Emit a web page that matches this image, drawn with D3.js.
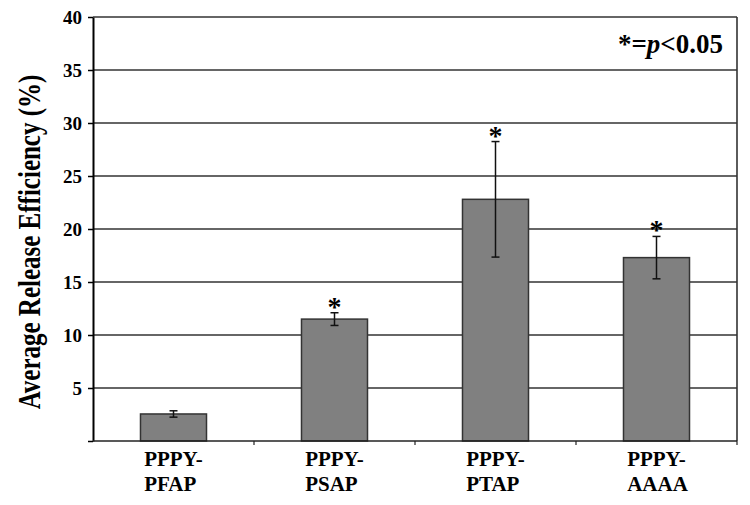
<!DOCTYPE html>
<html>
<head>
<meta charset="utf-8">
<script src="https://cdn.jsdelivr.net/npm/d3@7"></script>
<style>
  body { margin: 0; background: #fff; }
  text { font-family: "Liberation Serif", "Times New Roman", serif; font-weight: bold; }
</style>
</head>
<body>
<svg id="chart" width="750" height="505"></svg>
<script>
// data
var topLine = ["PPPY-", "PPPY-", "PPPY-", "PPPY-"];
var bottomLine = ["PFAP", "PSAP", "PTAP", "AAAA"];
var means = [2.55, 11.5, 22.8, 17.3];
var errors = [0.3, 0.6, 5.45, 2.0];
var significant = [false, true, true, true];
var yTicks = [0, 5, 10, 15, 20, 25, 30, 35, 40];

var width = 750, height = 505;
var margin = {left: 93, top: 17, right: 13, bottom: 64};
var svg = d3.select("#chart");
var serif = "'Liberation Serif', 'Times New Roman', serif";

var x = d3.scaleBand()
  .domain(bottomLine)
  .range([margin.left, width - margin.right])
  .paddingInner(0.59).paddingOuter(0.295);
var bands = d3.scaleBand().domain(bottomLine).range([margin.left, width - margin.right]);
var y = d3.scaleLinear().domain([0, 40]).range([height - margin.bottom, margin.top]);

//gridlines
svg.append("g").selectAll("line").data(yTicks.filter(function(d){return d > 0;}))
  .enter().append("line")
  .attr("x1", margin.left).attr("x2", width - margin.right)
  .attr("y1", function(d){return y(d);}).attr("y2", function(d){return y(d);})
  .attr("stroke", "#333").attr("stroke-width", 1.6);

// right border
svg.append("line")
  .attr("x1", width - margin.right).attr("x2", width - margin.right)
  .attr("y1", y(40)).attr("y2", y(0))
  .attr("stroke", "#333").attr("stroke-width", 1.6);

// bars
svg.append("g").selectAll("rect").data(means).enter().append("rect")
  .attr("x", function(d,i){return x(bottomLine[i]);})
  .attr("width", x.bandwidth())
  .attr("y", function(d){return y(d);})
  .attr("height", function(d){return y(0) - y(d);})
  .attr("fill", "#808080").attr("stroke", "#333").attr("stroke-width", 1.5);

// error bars
var eb = svg.append("g").attr("stroke", "#111").attr("stroke-width", 1.5);
means.forEach(function(m, i){
  var cx = x(bottomLine[i]) + x.bandwidth()/2;
  var hi = y(m + errors[i]), lo = y(m - errors[i]);
  eb.append("line").attr("x1", cx).attr("x2", cx).attr("y1", hi).attr("y2", lo);
  eb.append("line").attr("x1", cx-4).attr("x2", cx+4).attr("y1", hi).attr("y2", hi);
  eb.append("line").attr("x1", cx-4).attr("x2", cx+4).attr("y1", lo).attr("y2", lo);
  if (significant[i]) {
    svg.append("text").attr("x", cx).attr("y", hi + 3)
      .attr("text-anchor", "middle").attr("font-size", 28)
      .attr("font-family", serif).text("*");
  }
});

// y axis
var yAxis = svg.append("g").attr("transform", "translate(" + margin.left + ",0)")
  .call(d3.axisLeft(y).tickValues(yTicks).tickSize(5).tickSizeOuter(0)
    .tickFormat(function(d){return d === 0 ? "" : d;}));
yAxis.attr("font-family", serif).attr("font-size", 19);
yAxis.select(".domain").attr("stroke", "#000").attr("stroke-width", 2);
yAxis.selectAll(".tick line").attr("stroke", "#000").attr("stroke-width", 1.5);
yAxis.selectAll(".tick text").attr("x", -11).attr("fill", "#000")
  .attr("font-family", serif).attr("font-size", 19);

// x axis line with small ticks at band edges
var xAxis = svg.append("g").attr("transform", "translate(0," + y(0) + ")");
xAxis.append("line").attr("x1", margin.left).attr("x2", width - margin.right)
  .attr("stroke", "#222").attr("stroke-width", 1.6);
xAxis.selectAll(".xt").data(bottomLine).enter().append("line")
  .attr("x1", function(d){return bands(d) + bands.bandwidth();})
  .attr("x2", function(d){return bands(d) + bands.bandwidth();})
  .attr("y1", 0).attr("y2", 4).attr("stroke", "#222").attr("stroke-width", 1.2);

// category labels (two lines, left aligned)
bottomLine.forEach(function(d, i){
  var cx = bands(d) + bands.bandwidth()/2;
  var t1 = svg.append("text").attr("font-size", 21).attr("font-family", serif)
    .attr("y", 466).text(topLine[i]);
  var w = t1.node().getComputedTextLength();
  t1.attr("x", cx - w/2);
  svg.append("text").attr("font-size", 21).attr("font-family", serif)
    .attr("x", cx - w/2).attr("y", 491).text(d);
});

// y label
svg.append("text")
  .attr("transform", "translate(40,242) scale(1.3,1) rotate(-90)")
  .attr("text-anchor", "middle").attr("font-size", 25).attr("font-family", serif)
  .text("Average Release Efficiency (%)");

// significance note
var note = svg.append("text").attr("x", 723).attr("y", 53)
  .attr("text-anchor", "end").attr("font-size", 27).attr("font-family", serif);
note.append("tspan").text("*=");
note.append("tspan").attr("font-style", "italic").text("p");
note.append("tspan").text("<0.05");
</script>
</body>
</html>
